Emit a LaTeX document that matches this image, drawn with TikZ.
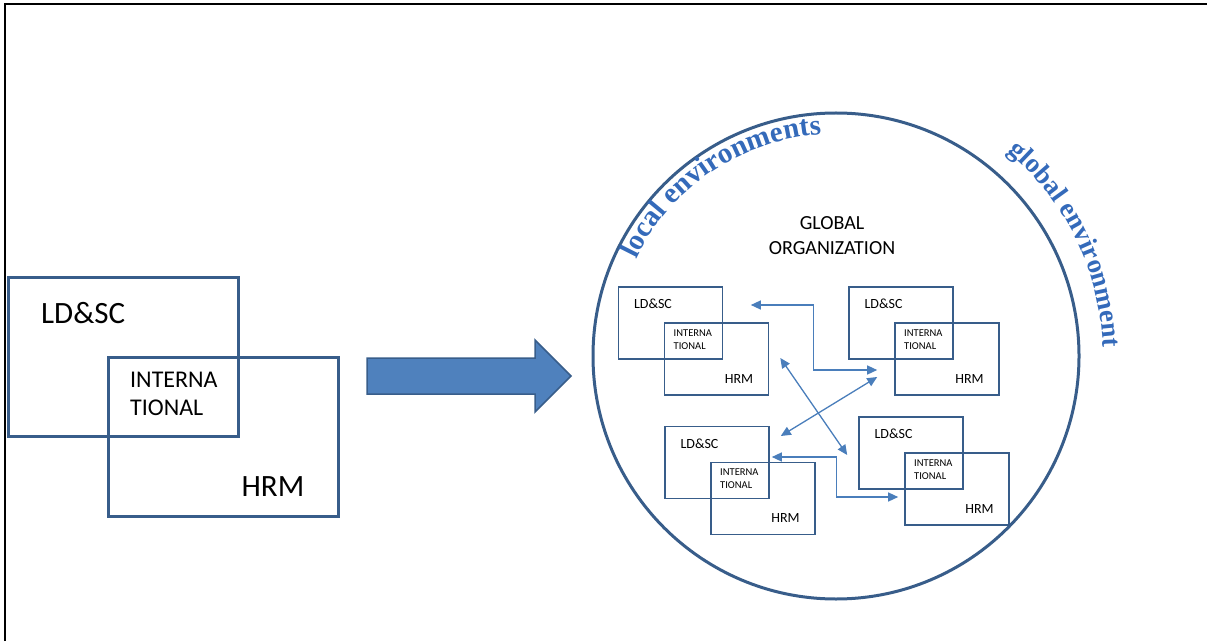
\documentclass[tikz,border=0pt]{standalone}
\usepackage{fontspec}
\setmainfont{Carlito}
\newfontfamily\wordart{Liberation Serif}
\usetikzlibrary{arrows.meta,decorations.text}

\definecolor{boxblue}{RGB}{56,93,138}
\definecolor{linkblue}{RGB}{74,126,187}
\definecolor{fillblue}{RGB}{79,129,189}
\definecolor{wordblue}{RGB}{52,106,186}
\newcommand\wordfont{\wordart\bfseries\fontsize{29}{29}\selectfont}
\newcommand\wordfontb{\wordart\bfseries\fontsize{27}{27}\selectfont}

\begin{document}
\begin{tikzpicture}[x=1pt,y=1pt,>={Triangle[length=10pt,width=9pt]},
        big box/.style={rectangle,draw=boxblue,line width=3pt,minimum width=230,minimum height=159,inner sep=0},
        small box/.style={rectangle,draw=boxblue,line width=1.6pt,minimum width=104,minimum height=72,inner sep=0},
        big text/.style={font=\fontsize{31}{37}\selectfont,inner sep=0},
        mid text/.style={font=\fontsize{24}{28}\selectfont,align=left,inner sep=0},
        small text/.style={font=\fontsize{14}{17}\selectfont,inner sep=0},
        tiny text/.style={font=\fontsize{10.5}{13}\selectfont,align=left,inner sep=0},
        link/.style={<->,draw=linkblue,line width=1.3pt}]
        \useasboundingbox (0,0) rectangle (1207,641);
        \draw[line width=1.5pt] (5,0) -- (5,637) -- (1207,637);

        % left: one organization
        \node[big box] (ld) at (123,284.5) {};
        \node[big box] (hrm) at ([shift={(100,-80)}]ld) {};
        \node[big text,anchor=west] (ldt) at ([shift={(-82,43.5)}]ld) {LD\&SC};
        \node[mid text,anchor=west] (intt) at ([shift={(7,-37.5)}]ld) {INTERNA\\TIONAL};
        \node[big text] (hrmt) at ([shift={(150,-130.5)}]ld) {HRM};

        \draw[draw=boxblue,fill=fillblue,line width=1.5pt] (367,283) -- (535,283) -- (535,301)
          -- (571,265) -- (535,229) -- (535,247) -- (367,247) -- cycle;

        % right: global organization
        \node[circle,draw=boxblue,line width=3pt,minimum size=486,inner sep=0] (globe) at (836,285) {};
        \node[font=\fontsize{20}{25}\selectfont,align=center] (go) at (832,405) {GLOBAL\\ORGANIZATION};
        \path[decorate,decoration={text along path,text align=center,text color=wordblue,
          text={|\wordfont|local environments}}] ([shift={(158:222)}]globe.center) arc[start angle=158,end angle=90,radius=222];
        \path[decorate,decoration={text along path,text align=center,text color=wordblue,
          text={|\wordfontb|global environment}}] ([shift={(55:267)}]globe.center) arc[start angle=55,end angle=-3,radius=267];

        \node[small box] (l1) at (670.5,318) {};
        \node[small box] (h1) at ([shift={(46,-36)}]l1) {};
        \node[small text] (lt1) at ([shift={(-17.5,19)}]l1) {LD\&SC};
        \node[tiny text,anchor=west] (it1) at ([shift={(3,-16.5)}]l1) {INTERNA\\TIONAL};
        \node[small text] (ht1) at ([shift={(68.5,-56)}]l1) {HRM};

        \node[small box] (l2) at (901,318) {};
        \node[small box] (h2) at ([shift={(46,-36)}]l2) {};
        \node[small text] (lt2) at ([shift={(-17.5,19)}]l2) {LD\&SC};
        \node[tiny text,anchor=west] (it2) at ([shift={(3,-16.5)}]l2) {INTERNA\\TIONAL};
        \node[small text] (ht2) at ([shift={(68.5,-56)}]l2) {HRM};

        \node[small box] (l3) at (717,178.5) {};
        \node[small box] (h3) at ([shift={(46,-36)}]l3) {};
        \node[small text] (lt3) at ([shift={(-17.5,19)}]l3) {LD\&SC};
        \node[tiny text,anchor=west] (it3) at ([shift={(3,-16.5)}]l3) {INTERNA\\TIONAL};
        \node[small text] (ht3) at ([shift={(68.5,-56)}]l3) {HRM};

        \node[small box] (l4) at (911,188) {};
        \node[small box] (h4) at ([shift={(46,-36)}]l4) {};
        \node[small text] (lt4) at ([shift={(-17.5,19)}]l4) {LD\&SC};
        \node[tiny text,anchor=west] (it4) at ([shift={(3,-16.5)}]l4) {INTERNA\\TIONAL};
        \node[small text] (ht4) at ([shift={(68.5,-56)}]l4) {HRM};

        % links between the units
        \coordinate (a1) at ([shift={(27.5,18)}]l1.east);
        \coordinate (a2) at ([shift={(-17,-11)}]h2.west);
        \coordinate (c1) at ([shift={(11,1)}]h1.east);
        \coordinate (c2) at ([shift={(-11,-2)}]l4.west);
        \coordinate (d1) at ([shift={(-17,-18)}]h2.west);
        \coordinate (d2) at ([shift={(11,26.5)}]l3.east);
        \coordinate (b1) at ([shift={(2,5.5)}]l3.east);
        \coordinate (b2) at ([shift={(-6,-8)}]h4.west);
        \draw[link] (a1) -- ++(63,0) |- (a2);
        \draw[link] (c1) -- (c2);
        \draw[link] (d1) -- (d2);
        \draw[link] (b1) -- ++(65,0) |- (b2);
\end{tikzpicture}
\end{document}
